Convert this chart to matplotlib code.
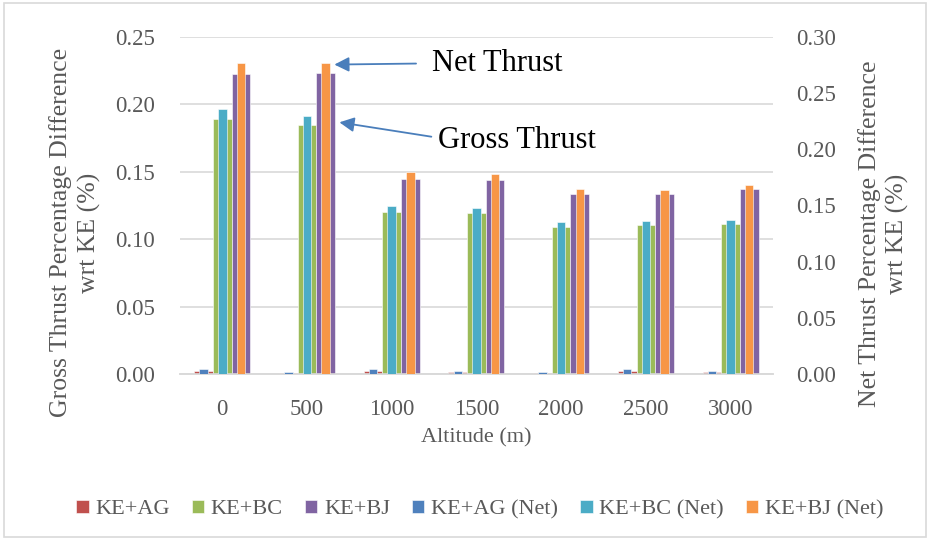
import numpy as np
import matplotlib.pyplot as plt
from matplotlib.patches import Rectangle

altitudes = ["0", "500", "1000", "1500", "2000", "2500", "3000"]

# gross thrust difference (left axis)
ke_ag = [0.0022, 0.0008, 0.0022, 0.0015, 0.0005, 0.0022, 0.0015]
ke_bc = [0.189, 0.185, 0.120, 0.1196, 0.109, 0.1107, 0.1114]
ke_bj = [0.2224, 0.2236, 0.1446, 0.1438, 0.1332, 0.1334, 0.1371]

# net thrust difference (right axis)
ke_ag_net = [0.004, 0.0015, 0.004, 0.003, 0.0015, 0.004, 0.003]
ke_bc_net = [0.236, 0.2297, 0.1496, 0.148, 0.1356, 0.1365, 0.137]
ke_bj_net = [0.277, 0.277, 0.180, 0.1778, 0.1645, 0.1638, 0.168]

colors = ["#C0504D", "#9BBB59", "#8064A2", "#4F81BD", "#4BACC6", "#F79646"]
grey = "#595959"
font = "Liberation Serif"

plt.rcParams['font.family'] = font

fig = plt.figure(figsize=(9.3, 5.42), dpi=100)
ax = fig.add_axes([0.1935, 0.31, 0.6376, 0.6218])
ax2 = ax.twinx()

x = np.arange(len(altitudes))
w1 = 0.22
w2 = 0.10
offsets = [-w1, 0, w1]

gross = [ke_ag, ke_bc, ke_bj]
net = [ke_ag_net, ke_bc_net, ke_bj_net]
names = ["KE+AG", "KE+BC", "KE+BJ", "KE+AG (Net)", "KE+BC (Net)", "KE+BJ (Net)"]

handles = []
for i in range(3):
    h = ax.bar(x + offsets[i], gross[i], width=w1, color=colors[i],
               edgecolor="white", linewidth=0.4, label=names[i], zorder=3)
    handles.append(h)
for i in range(3):
    h = ax2.bar(x + offsets[i], net[i], width=w2, color=colors[i + 3],
                edgecolor="white", linewidth=0.4, label=names[i + 3], zorder=3)
    handles.append(h)

ax.set_xlim(-0.5, len(altitudes) - 0.5)
ax.set_ylim(0, 0.25)
ax2.set_ylim(0, 0.30)
ax.set_yticks(np.arange(0, 0.251, 0.05))
ax2.set_yticks(np.arange(0, 0.301, 0.05))
ax.set_yticklabels([f"{v:.2f}" for v in ax.get_yticks()])
ax2.set_yticklabels([f"{v:.2f}" for v in ax2.get_yticks()])
ax.set_xticks(x)
ax.set_xticklabels(altitudes)

ax.grid(axis="y", color="#D9D9D9", linewidth=1.2, zorder=0)
ax.set_axisbelow(True)
for a in (ax, ax2):
    for s in ["top", "left", "right"]:
        a.spines[s].set_visible(False)
    a.spines["bottom"].set_color("#D9D9D9")
    a.spines["bottom"].set_linewidth(1.2)
    a.tick_params(length=0, labelsize=16.5, labelcolor=grey)
ax.tick_params(axis="y", pad=18)
ax.tick_params(axis="x", pad=18)
ax2.tick_params(axis="y", pad=17)

ax.set_xlabel("Altitude (m)", fontsize=16, color=grey, labelpad=6)
ax.set_ylabel("Gross Thrust Percentage Difference\nwrt KE (%)", fontsize=18.5,
              color=grey, linespacing=1.3, va="center", ha="center")
ax2.set_ylabel("Net Thrust Percentage Difference\nwrt KE (%)", fontsize=18.5,
               color=grey, rotation=90, linespacing=1.3, va="center", ha="center")
ax.yaxis.set_label_coords(-0.177, 0.42)
ax2.yaxis.set_label_coords(1.187, 0.415)

arrow = dict(arrowstyle="-|>", color="#4A7EBB", lw=1.3, mutation_scale=22)
ax.annotate("", xy=(1.29, 0.2295), xytext=(2.32, 0.2303), arrowprops=arrow)
ax.text(2.47, 0.2303, "Net Thrust", fontsize=22, va="center", ha="left", color="black")
ax.annotate("", xy=(1.35, 0.187), xytext=(2.5, 0.1757), arrowprops=arrow)
ax.text(2.55, 0.1735, "Gross Thrust", fontsize=22, va="center", ha="left", color="black")

fig.legend(handles=handles, labels=names, loc="center", bbox_to_anchor=(0.516, 0.060),
           ncol=6, frameon=False, fontsize=16, handlelength=0.55, handleheight=0.55,
           handletextpad=0.3, columnspacing=1.0, labelcolor=grey)

fig.patches.append(Rectangle((0.004, 0.01), 0.992, 0.985, transform=fig.transFigure,
                             fill=False, edgecolor="#D9D9D9", linewidth=1.2))

fig.savefig("out.png", dpi=100)
